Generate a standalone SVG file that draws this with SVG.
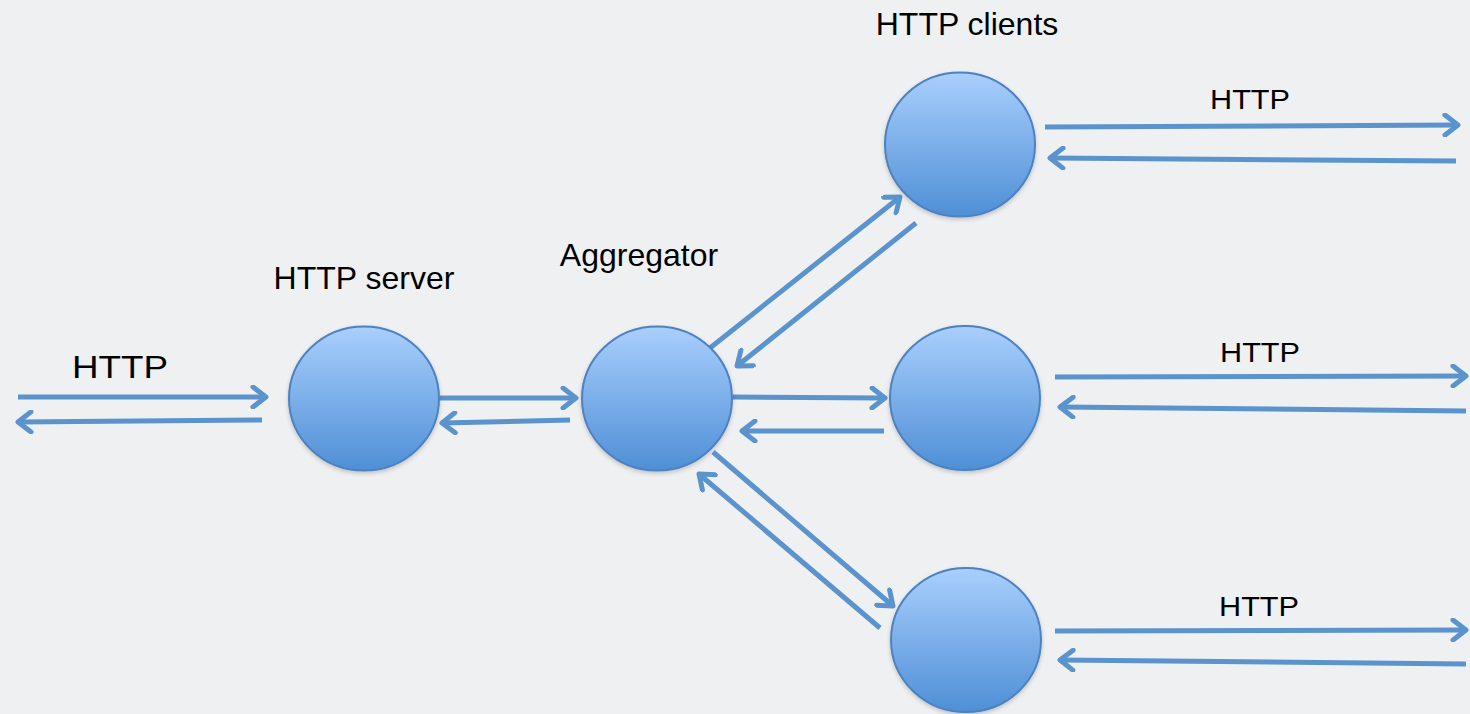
<svg xmlns="http://www.w3.org/2000/svg" width="1470" height="714" viewBox="0 0 1470 714">
<defs>
<linearGradient id="g" x1="0" y1="0" x2="0" y2="1">
<stop offset="0" stop-color="#a9cffd"/>
<stop offset="1" stop-color="#4f8fd6"/>
</linearGradient>
<marker id="ah" viewBox="-16 -12 20 24" markerWidth="20" markerHeight="24" refX="0" refY="0" orient="auto" markerUnits="userSpaceOnUse">
<path d="M-13,-10 L0,0 L-13,10" fill="none" stroke="#5b93cc" stroke-width="5" stroke-linecap="round" stroke-linejoin="round"/>
</marker>
<filter id="sh" x="-10%" y="-10%" width="120%" height="130%">
<feDropShadow dx="0" dy="2" stdDeviation="2" flood-color="#000" flood-opacity="0.2"/>
</filter>
</defs>
<style>
.n{fill:url(#g);stroke:#4d82c0;stroke-width:2;filter:url(#sh)}
.c line{stroke:#5b93cc;stroke-width:5;marker-end:url(#ah)}
text{font-family:"Liberation Sans",Arial,sans-serif;fill:#000;text-anchor:middle}
</style>
<rect width="1470" height="714" fill="#eff0f2"/>
<g id="connectors" class="c">
<line x1="18" y1="397" x2="266" y2="397"/>
<line x1="262" y1="420" x2="18" y2="422"/>
<line x1="440" y1="398" x2="576" y2="398"/>
<line x1="570" y1="420" x2="442" y2="423"/>
<line x1="733" y1="397" x2="885" y2="398"/>
<line x1="884" y1="431" x2="742" y2="431"/>
<line x1="710" y1="348" x2="900" y2="197"/>
<line x1="916" y1="223" x2="737" y2="366"/>
<line x1="713" y1="452" x2="893" y2="606"/>
<line x1="880" y1="628" x2="699" y2="474"/>
<line x1="1045" y1="127" x2="1458" y2="125"/>
<line x1="1456" y1="161" x2="1050" y2="158"/>
<line x1="1055" y1="377" x2="1466" y2="376"/>
<line x1="1466" y1="411" x2="1060" y2="407"/>
<line x1="1055" y1="631" x2="1466" y2="630"/>
<line x1="1466" y1="664" x2="1060" y2="660"/>
</g>
<g id="http-server"><ellipse class="n" cx="364" cy="398.5" rx="75" ry="72"/><text x="364" y="289" font-size="32">HTTP server</text></g>
<g id="aggregator"><ellipse class="n" cx="657" cy="398.5" rx="75" ry="72"/><text x="639" y="266" font-size="32">Aggregator</text></g>
<g id="client-1"><ellipse class="n" cx="960" cy="144.5" rx="75" ry="72"/><text x="967" y="35" font-size="32">HTTP clients</text></g>
<g id="client-2"><ellipse class="n" cx="965" cy="398" rx="75" ry="72"/></g>
<g id="client-3"><ellipse class="n" cx="966" cy="640" rx="75" ry="72"/></g>
<g id="labels">
<text x="120" y="378" font-size="32" textLength="96" lengthAdjust="spacingAndGlyphs">HTTP</text>
<text x="1250" y="109" font-size="28" textLength="80" lengthAdjust="spacingAndGlyphs">HTTP</text>
<text x="1260" y="362" font-size="28" textLength="80" lengthAdjust="spacingAndGlyphs">HTTP</text>
<text x="1259" y="616" font-size="28" textLength="80" lengthAdjust="spacingAndGlyphs">HTTP</text>
</g>
</svg>
